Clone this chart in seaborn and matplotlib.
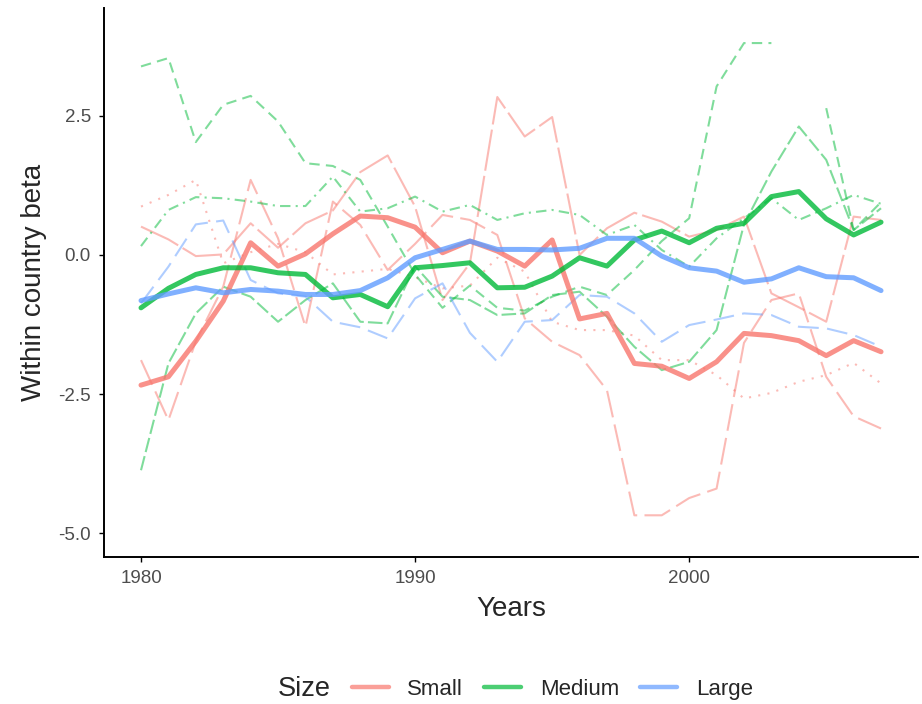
import numpy as np
import pandas as pd
import matplotlib
matplotlib.use("Agg")
import matplotlib.pyplot as plt
import seaborn as sns
from matplotlib.lines import Line2D

years = list(range(1980, 2008))

# group means (thick lines)
small_mean = [-2.34, -2.19, -1.55, -0.83, 0.22, -0.2, 0.02, 0.38, 0.7, 0.67, 0.5, 0.04, 0.25, 0.07,
              -0.2, 0.27, -1.15, -1.05, -1.95, -2.0, -2.22, -1.92, -1.41, -1.45, -1.54, -1.81, -1.54, -1.74]
medium_mean = [-0.95, -0.6, -0.35, -0.23, -0.23, -0.32, -0.35, -0.77, -0.71, -0.93, -0.23, -0.19, -0.14, -0.59,
               -0.58, -0.38, -0.05, -0.2, 0.27, 0.43, 0.22, 0.48, 0.57, 1.05, 1.14, 0.65, 0.36, 0.59]
large_mean = [-0.82, -0.7, -0.59, -0.68, -0.62, -0.65, -0.71, -0.71, -0.64, -0.41, -0.05, 0.1, 0.25, 0.1,
              0.1, 0.09, 0.12, 0.3, 0.3, -0.02, -0.23, -0.29, -0.49, -0.43, -0.23, -0.39, -0.41, -0.64]

# individual countries (thin lines)
small_a = [0.51, 0.28, -0.02, 0.01, 0.57, 0.13, 0.57, 0.8, 1.49, 1.79, 0.87, -0.81, -0.15, 2.84,
           2.13, 2.48, 0.0, 0.48, 0.76, 0.6, 0.33, 0.45, 0.69, -0.69, -0.94, -1.2, 0.69, 0.63]
small_b = [-1.89, -2.97, -1.55, -0.57, 1.35, 0.3, -1.29, 0.96, 0.54, -0.27, 0.2, 0.72, 0.63, 0.36,
           -1.14, -1.56, -1.8, -2.43, -4.68, -4.68, -4.37, -4.2, -1.58, -0.81, -0.69, -2.19, -2.9, -3.12]
small_c = [0.87, 1.08, 1.35, -0.15, 0.05, 0.2, 0.05, -0.35, -0.3, -0.25, -0.4, -0.6, -0.55, -0.05,
           -0.3, -1.2, -1.35, -1.35, -1.45, -1.89, -1.89, -2.16, -2.58, -2.48, -2.28, -2.16, -1.94, -2.31]
medium_a = [3.39, 3.54, 2.03, 2.70, 2.86, 2.4, 1.65, 1.6, 1.35, 0.51, -0.35, -0.95, -0.55, -0.95,
            -1.0, -0.75, -0.57, -0.72, -0.27, 0.25, 0.66, 3.03, 3.81, 3.81, np.nan, 2.64, 0.45, 0.95]
medium_b = [0.16, 0.81, 1.04, 1.02, 0.96, 0.88, 0.88, 1.41, 0.78, 0.84, 1.05, 0.78, 0.9, 0.63,
            0.75, 0.81, 0.72, 0.36, 0.54, 0.09, -0.21, 0.3, 0.66, 1.02, 0.63, 0.84, 1.08, 0.92]
medium_c = [-3.87, -1.95, -1.05, -0.57, -0.75, -1.2, -0.81, -0.51, -1.2, -1.23, -0.2, -0.75, -0.81, -1.08,
            -1.05, -0.72, -0.66, -1.11, -1.65, -2.07, -1.92, -1.35, 0.55, 1.5, 2.31, 1.71, 0.45, 0.84]
large_a = [-0.87, -0.21, 0.55, 0.62, -0.45, -0.69, -0.75, -1.2, -1.3, -1.5, -0.78, -0.51, -1.4, -1.92,
           -1.2, -1.17, -0.72, -0.75, -1.05, -1.56, -1.26, -1.16, -1.05, -1.08, -1.29, -1.32, -1.44, -1.65]

size_labels = ["Small", "Medium", "Large"]
palette = {"Small": "#F8766D", "Medium": "#00BA38", "Large": "#619CFF"}

thin_lines = [
    ("Small", small_a, (0, (20, 2.5))),
    ("Small", small_b, (0, (13, 3.5))),
    ("Small", small_c, (0, (1, 3.5))),
    ("Medium", medium_a, (0, (5, 3))),
    ("Medium", medium_b, (0, (5, 2.5, 1, 2.5))),
    ("Medium", medium_c, (0, (7, 2))),
    ("Large", large_a, (0, (10, 4))),
]
means = {"Small": small_mean, "Medium": medium_mean, "Large": large_mean}

sns.set_theme(style="ticks")
plt.rcParams['font.family'] = ['Liberation Sans', 'DejaVu Sans']

fig = plt.figure(figsize=(9.22, 7.04), dpi=100)
ax = fig.add_axes([0.1128, 0.2088, 0.8829, 0.7798])

for size, vals, ls in thin_lines:
    df = pd.DataFrame({"year": years, "beta": vals})
    # break the line where values are missing
    df["seg"] = df["beta"].isna().cumsum()
    for _, part in df.dropna().groupby("seg"):
        sns.lineplot(data=part, x="year", y="beta", ax=ax, color=palette[size],
                     lw=1.5, alpha=0.5, linestyle=ls, estimator=None, legend=False)

for size in size_labels:
    sns.lineplot(x=years, y=means[size], ax=ax, color=palette[size], lw=3.6,
                 alpha=0.8, estimator=None, legend=False)

ax.set_xlim(1978.65, 2008.35)
ax.set_ylim(-5.43, 4.44)
ax.set_xticks([1980, 1990, 2000])
ax.set_yticks([-5, -2.5, 0, 2.5])
ax.set_yticklabels(["-5.0", "-2.5", "0.0", "2.5"])
sns.despine(ax=ax)
for sp in ["left", "bottom"]:
    ax.spines[sp].set_color("black")
    ax.spines[sp].set_linewidth(1.4)
ax.tick_params(axis="both", length=3.5, width=1, color="black", labelsize=13.5,
               labelcolor="#4D4D4D", pad=6)
ax.set_xlabel("Years", fontsize=20, labelpad=6)
ax.set_ylabel("Within country beta", fontsize=20, labelpad=8)

handles = [Line2D([], [], color=palette[s], lw=3.2, alpha=0.7) for s in size_labels]
fig.text(0.301, 0.021, "Size", fontsize=19.5, ha="left", va="center")
fig.legend(handles, size_labels, loc="center left", bbox_to_anchor=(0.372, 0.021),
           ncol=3, frameon=False, fontsize=16, handlelength=1.65, handletextpad=0.85,
           columnspacing=0.95, borderaxespad=0)

fig.savefig("out.png", dpi=100)
